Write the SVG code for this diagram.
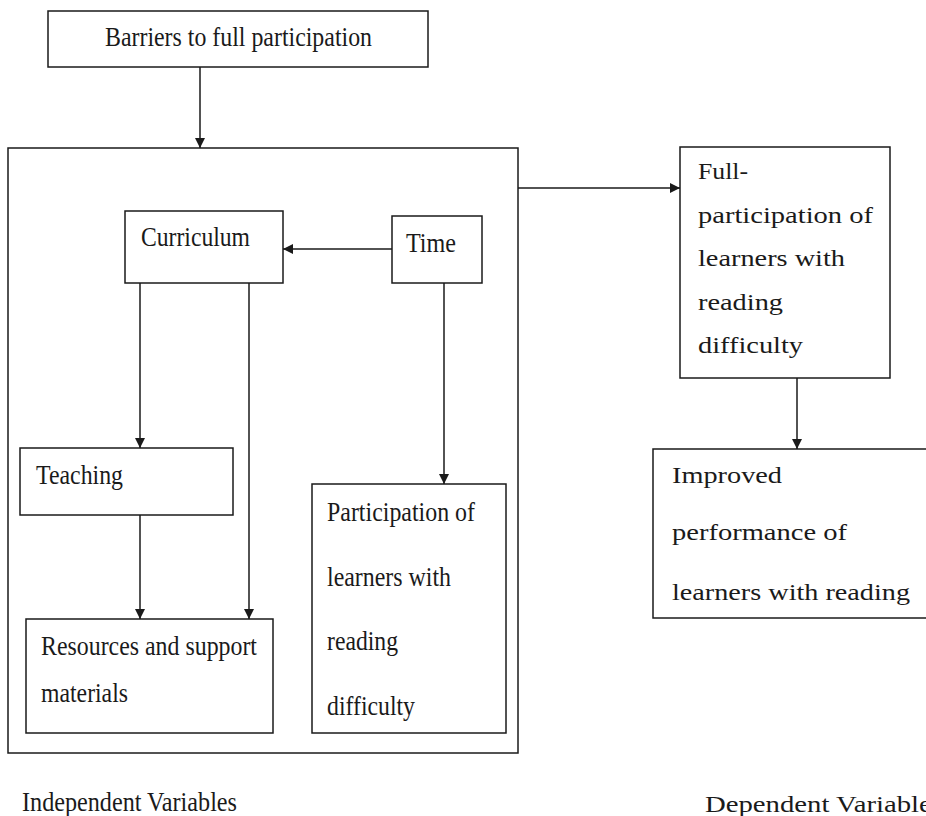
<svg xmlns="http://www.w3.org/2000/svg" width="926" height="816" viewBox="0 0 926 816">
<defs>
<marker id="ah" viewBox="0 0 10 10" refX="10" refY="5" markerWidth="10" markerHeight="10" markerUnits="userSpaceOnUse" orient="auto">
<path d="M0,0 L10,5 L0,10 z" fill="#1a1a1a"/>
</marker>
</defs>
<style>
rect{fill:#fff;stroke:#1a1a1a;stroke-width:1.5}
text{font-family:"Liberation Serif","Times New Roman",serif;font-size:24px;fill:#1a1a1a}
.l text{font-size:27px}
.c line{stroke:#1a1a1a;stroke-width:1.5;marker-end:url(#ah)}
</style>
<rect width="926" height="816" style="fill:#fff;stroke:none"/>
<g id="outer"><rect x="8" y="148" width="510" height="605"/></g>
<g id="barriers" class="l"><rect x="48" y="11" width="380" height="56"/><text x="105" y="46" textLength="267" lengthAdjust="spacingAndGlyphs">Barriers to full participation</text></g>
<g id="curriculum" class="l"><rect x="125" y="211" width="158" height="72"/><text x="141" y="246" textLength="109" lengthAdjust="spacingAndGlyphs">Curriculum</text></g>
<g id="time" class="l"><rect x="392" y="216" width="90" height="67"/><text x="406" y="252" textLength="50" lengthAdjust="spacingAndGlyphs">Time</text></g>
<g id="teaching" class="l"><rect x="20" y="448" width="213" height="67"/><text x="36" y="484" textLength="87" lengthAdjust="spacingAndGlyphs">Teaching</text></g>
<g id="resources" class="l"><rect x="26" y="619" width="247" height="114"/><text x="41" y="655" textLength="216" lengthAdjust="spacingAndGlyphs">Resources and support</text><text x="41" y="702" textLength="87" lengthAdjust="spacingAndGlyphs">materials</text></g>
<g id="participation" class="l"><rect x="312" y="484" width="194" height="249"/><text x="327" y="521" textLength="148" lengthAdjust="spacingAndGlyphs">Participation of</text><text x="327" y="586" textLength="124" lengthAdjust="spacingAndGlyphs">learners with</text><text x="327" y="650" textLength="71" lengthAdjust="spacingAndGlyphs">reading</text><text x="327" y="715" textLength="88" lengthAdjust="spacingAndGlyphs">difficulty</text></g>
<g id="fullparticipation"><rect x="680" y="147" width="210" height="231"/>
<text x="698" y="179" textLength="50" lengthAdjust="spacingAndGlyphs">Full-</text>
<text x="698" y="223" textLength="175" lengthAdjust="spacingAndGlyphs">participation of</text>
<text x="698" y="266" textLength="147" lengthAdjust="spacingAndGlyphs">learners with</text>
<text x="698" y="310" textLength="85" lengthAdjust="spacingAndGlyphs">reading</text>
<text x="698" y="353" textLength="105" lengthAdjust="spacingAndGlyphs">difficulty</text></g>
<g id="improved"><rect x="653" y="449" width="280" height="169"/>
<text x="672" y="483" textLength="110" lengthAdjust="spacingAndGlyphs">Improved</text>
<text x="672" y="540" textLength="175" lengthAdjust="spacingAndGlyphs">performance of</text>
<text x="672" y="600" textLength="238" lengthAdjust="spacingAndGlyphs">learners with reading</text></g>
<g id="labels">
<text x="22" y="811" style="font-size:27px" textLength="215" lengthAdjust="spacingAndGlyphs">Independent Variables</text>
<text x="705" y="812" textLength="238" lengthAdjust="spacingAndGlyphs">Dependent Variables</text>
</g>
<g class="c" id="connectors">
<line x1="200" y1="67" x2="200" y2="148"/>
<line x1="392" y1="249" x2="283" y2="249"/>
<line x1="140" y1="283" x2="140" y2="448"/>
<line x1="249" y1="283" x2="249" y2="619"/>
<line x1="140" y1="515" x2="140" y2="619"/>
<line x1="444" y1="283" x2="444" y2="484"/>
<line x1="518" y1="188" x2="680" y2="188"/>
<line x1="797" y1="378" x2="797" y2="449"/>
</g>
</svg>
